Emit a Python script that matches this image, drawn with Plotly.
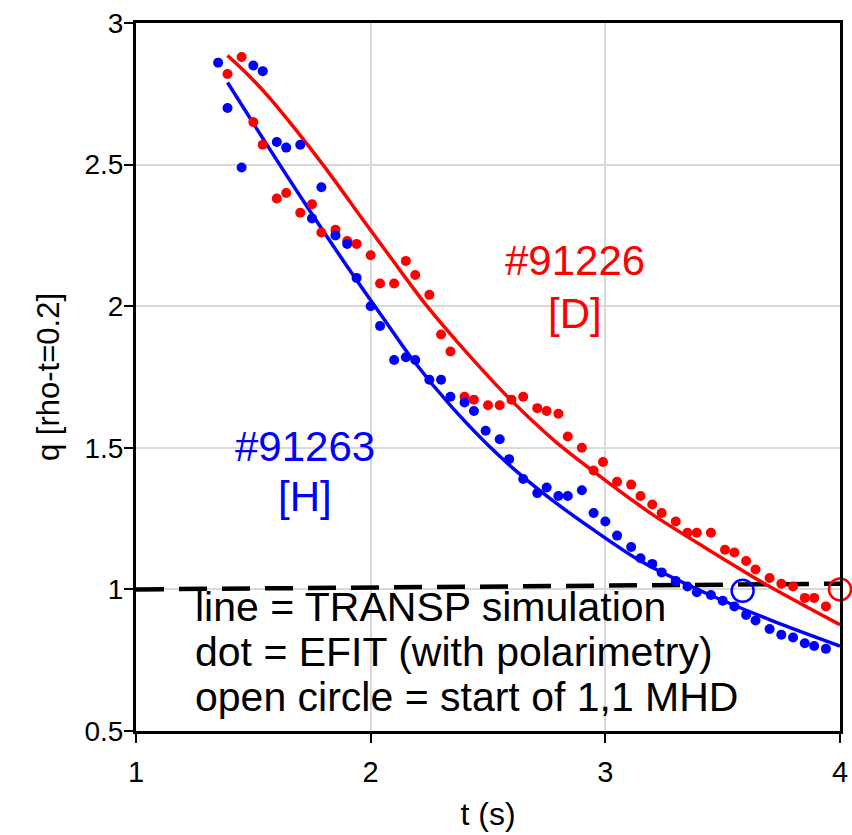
import plotly.graph_objects as go

# EFIT dots, #91263 [H] (blue)
blue_t = [1.35,1.39,1.45,1.50,1.54,1.60,1.64,1.70,1.75,1.79,1.85,1.90,1.94,2.00,2.04,2.10,2.15,2.19,2.25,2.30,
          2.34,2.40,2.44,2.49,2.55,2.59,2.65,2.71,2.75,2.80,2.84,2.90,2.95,3.00,3.05,3.11,3.15,3.20,3.24,3.30,
          3.35,3.39,3.45,3.50,3.55,3.60,3.64,3.70,3.75,3.80,3.85,3.89,3.94]
blue_q = [2.86,2.70,2.49,2.85,2.83,2.58,2.56,2.57,2.31,2.42,2.25,2.22,2.10,2.00,1.93,1.81,1.82,1.81,1.74,1.74,
          1.68,1.66,1.63,1.56,1.53,1.46,1.39,1.34,1.36,1.33,1.33,1.35,1.27,1.24,1.19,1.15,1.11,1.09,1.06,1.03,
          1.01,0.99,0.98,0.96,0.94,0.91,0.89,0.86,0.84,0.83,0.81,0.80,0.79]

# EFIT dots, #91226 [D] (red)
red_t = [1.39,1.45,1.50,1.54,1.60,1.64,1.70,1.75,1.79,1.85,1.90,1.94,2.00,2.04,2.10,2.15,2.19,2.25,2.30,2.34,
         2.40,2.44,2.50,2.55,2.60,2.65,2.71,2.75,2.80,2.84,2.90,2.95,2.99,3.05,3.11,3.15,3.20,3.24,3.30,3.35,
         3.39,3.45,3.51,3.55,3.60,3.64,3.70,3.75,3.80,3.85,3.89,3.94]
red_q = [2.82,2.88,2.65,2.57,2.38,2.40,2.33,2.36,2.26,2.27,2.23,2.22,2.18,2.08,2.08,2.16,2.11,2.04,1.90,1.84,
         1.68,1.67,1.65,1.65,1.67,1.68,1.64,1.63,1.62,1.54,1.50,1.42,1.45,1.38,1.37,1.33,1.30,1.27,1.24,1.20,
         1.20,1.20,1.14,1.13,1.10,1.07,1.04,1.02,1.01,0.97,0.97,0.94]

# TRANSP simulation lines
red_line_t = [1.39,1.48,1.57,1.66,1.75,1.85,1.95,2.10,2.24,2.40,2.59,2.79,3.00,3.20,3.42,3.70,4.00]
red_line_q = [2.885,2.815,2.735,2.645,2.55,2.44,2.325,2.155,2.00,1.845,1.675,1.52,1.385,1.265,1.15,1.01,0.875]
blue_line_t = [1.39,1.55,1.73,1.90,2.06,2.18,2.35,2.55,2.75,2.95,3.15,3.42,3.71,4.00]
blue_line_q = [2.79,2.58,2.35,2.14,1.95,1.81,1.64,1.47,1.33,1.21,1.10,0.99,0.89,0.80]

# start of 1,1 MHD (open circles)
blue_mhd_t = [3.585]
blue_mhd_q = [0.995]
red_mhd_t = [4.0]
red_mhd_q = [1.0]

# q = 1 reference (dashed)
ref_t = [1.0, 4.0]
ref_q = [1.0, 1.02]

x_ticks = [1, 2, 3, 4]
y_ticks = [0.5, 1, 1.5, 2, 2.5, 3]
y_ticktext = ["0.5", "1", "1.5", "2", "2.5", "3"]

RED = "#FF0000"
BLUE = "#0000FF"
FONT = "Liberation Sans, Arial, sans-serif"

fig = go.Figure()
fig.add_trace(go.Scatter(x=ref_t, y=ref_q, mode="lines",
                         line=dict(color="black", width=4.5, dash="28px,15px"), showlegend=False))
fig.add_trace(go.Scatter(x=red_line_t, y=red_line_q, mode="lines",
                         line=dict(color=RED, width=3.5, shape="spline", smoothing=0.8), showlegend=False))
fig.add_trace(go.Scatter(x=blue_line_t, y=blue_line_q, mode="lines",
                         line=dict(color=BLUE, width=3.5, shape="spline", smoothing=0.8), showlegend=False))
fig.add_trace(go.Scatter(x=red_t, y=red_q, mode="markers",
                         marker=dict(color=RED, size=10), showlegend=False))
fig.add_trace(go.Scatter(x=blue_t, y=blue_q, mode="markers",
                         marker=dict(color=BLUE, size=10), showlegend=False))
fig.add_trace(go.Scatter(x=blue_mhd_t, y=blue_mhd_q, mode="markers", cliponaxis=False,
                         marker=dict(symbol="circle-open", color=BLUE, size=22, line=dict(width=2.5)),
                         showlegend=False))
fig.add_trace(go.Scatter(x=red_mhd_t, y=red_mhd_q, mode="markers", cliponaxis=False,
                         marker=dict(symbol="circle-open", color=RED, size=22, line=dict(width=2.5)),
                         showlegend=False))

annos = [
    dict(text="#91226", x=2.87, y=2.163, color=RED, anchor="center", size=42),
    dict(text="[D]", x=2.87, y=1.976, color=RED, anchor="center", size=42),
    dict(text="#91263", x=1.72, y=1.503, color=BLUE, anchor="center", size=42),
    dict(text="[H]", x=1.72, y=1.327, color=BLUE, anchor="center", size=42),
    dict(text="line = TRANSP simulation", x=1.244, y=0.938, color="black", anchor="left", size=41),
    dict(text="dot = EFIT (with polarimetry)", x=1.244, y=0.779, color="black", anchor="left", size=41),
    dict(text="open circle = start of 1,1 MHD", x=1.244, y=0.620, color="black", anchor="left", size=41),
]
for a in annos:
    fig.add_annotation(x=a["x"], y=a["y"], xref="x", yref="y", text=a["text"], showarrow=False,
                       xanchor=a["anchor"], yanchor="middle",
                       font=dict(family=FONT, size=a["size"], color=a["color"]))

fig.update_layout(
    width=852, height=835,
    margin=dict(l=136, r=12, t=23, b=104),
    paper_bgcolor="white", plot_bgcolor="white",
    font=dict(family=FONT, color="black"),
    xaxis=dict(range=[1, 4], tickvals=x_ticks, ticktext=[str(v) for v in x_ticks],
               showline=True, linecolor="black", linewidth=3, mirror=True, automargin=False,
               ticks="outside", ticklen=9, tickwidth=2, tickcolor="black", ticklabelstandoff=4,
               ticklabeloverflow="allow",
               showgrid=True, gridcolor="#D9D9D9", gridwidth=2, zeroline=False,
               tickfont=dict(size=29, family=FONT),
               title=dict(text="t (s)", font=dict(size=32, family=FONT), standoff=16)),
    xaxis2=dict(range=[1, 4], overlaying="x", anchor="y", side="bottom", matches="x",
                tickvals=x_ticks, showticklabels=False, ticks="inside", ticklen=9, tickwidth=2,
                tickcolor="black", showgrid=False, showline=False, zeroline=False, automargin=False),
    yaxis=dict(range=[0.5, 3], tickvals=y_ticks, ticktext=y_ticktext,
               showline=True, linecolor="black", linewidth=3, mirror=True, automargin=False,
               ticks="outside", ticklen=9, tickwidth=2, tickcolor="black", ticklabelstandoff=-5,
               showgrid=True, gridcolor="#D9D9D9", gridwidth=2, zeroline=False,
               tickfont=dict(size=28, family=FONT),
               title=dict(text="q [rho-t=0.2]", font=dict(size=31, family=FONT), standoff=16)),
)

fig.write_html("out.html")
